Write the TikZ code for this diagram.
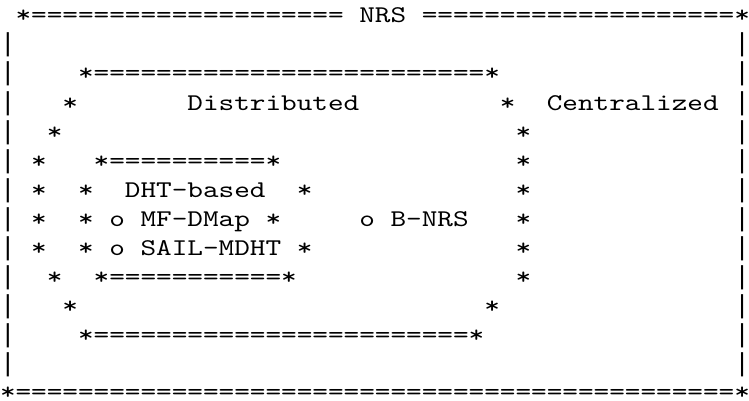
\documentclass[tikz,border=0pt]{standalone}
\usepackage{fontspec}
\newfontfamily\asciifont{lmmono10-regular.otf}[FakeStretch=1.24]
\newfontfamily\barfont{Liberation Mono}
\newcommand\gap[1]{\hspace*{#1\fontcharwd\font`x}}
\newcommand\rep[2]{\foreach\k in {1,...,#1}{#2}}
\newcommand\vbar{\makebox[\fontcharwd\font`x]{\barfont\fontsize{26}{26}\selectfont|}}
\tikzset{asciirow/.style={anchor=base west,inner sep=0pt,outer sep=0pt,
  font=\asciifont\fontsize{24}{24}\selectfont}}
\begin{document}
\begin{tikzpicture}[x=1pt,y=1pt]
  \useasboundingbox (0,0) rectangle (749,401);
  \node[asciirow] (r0) at (0,{378.2-29.08*0}) {\gap{1}*\rep{20}{=}\gap{1}NRS\gap{1}\rep{20}{=}*};
  \node[asciirow] (r1) at (0,{378.2-29.08*1}) {\vbar\gap{46}\vbar};
  \node[asciirow] (r2) at (0,{378.2-29.08*2}) {\vbar\gap{4}*\rep{25}{=}*\gap{15}\vbar};
  \node[asciirow] (r3) at (0,{378.2-29.08*3}) {\vbar\gap{3}*\gap{7}Distributed\gap{9}*\gap{2}Centralized\gap{1}\vbar};
  \node[asciirow] (r4) at (0,{378.2-29.08*4}) {\vbar\gap{2}*\gap{29}*\gap{13}\vbar};
  \node[asciirow] (r5) at (0,{378.2-29.08*5}) {\vbar\gap{1}*\gap{3}*\rep{10}{=}*\gap{15}*\gap{13}\vbar};
  \node[asciirow] (r6) at (0,{378.2-29.08*6}) {\vbar\gap{1}*\gap{2}*\gap{2}DHT-based\gap{2}*\gap{13}*\gap{13}\vbar};
  \node[asciirow] (r7) at (0,{378.2-29.08*7}) {\vbar\gap{1}*\gap{2}*\gap{1}o\gap{1}MF-DMap\gap{1}*\gap{5}o\gap{1}B-NRS\gap{3}*\gap{13}\vbar};
  \node[asciirow] (r8) at (0,{378.2-29.08*8}) {\vbar\gap{1}*\gap{2}*\gap{1}o\gap{1}SAIL-MDHT\gap{1}*\gap{13}*\gap{13}\vbar};
  \node[asciirow] (r9) at (0,{378.2-29.08*9}) {\vbar\gap{2}*\gap{2}*\rep{11}{=}*\gap{14}*\gap{13}\vbar};
  \node[asciirow] (r10) at (0,{378.2-29.08*10}) {\vbar\gap{3}*\gap{26}*\gap{15}\vbar};
  \node[asciirow] (r11) at (0,{378.2-29.08*11}) {\vbar\gap{4}*\rep{24}{=}*\gap{16}\vbar};
  \node[asciirow] (r12) at (0,{378.2-29.08*12}) {\vbar\gap{46}\vbar};
  \node[asciirow] (r13) at (0,{378.2-29.08*13+1.5}) {*\rep{46}{=}*};
\end{tikzpicture}
\end{document}
